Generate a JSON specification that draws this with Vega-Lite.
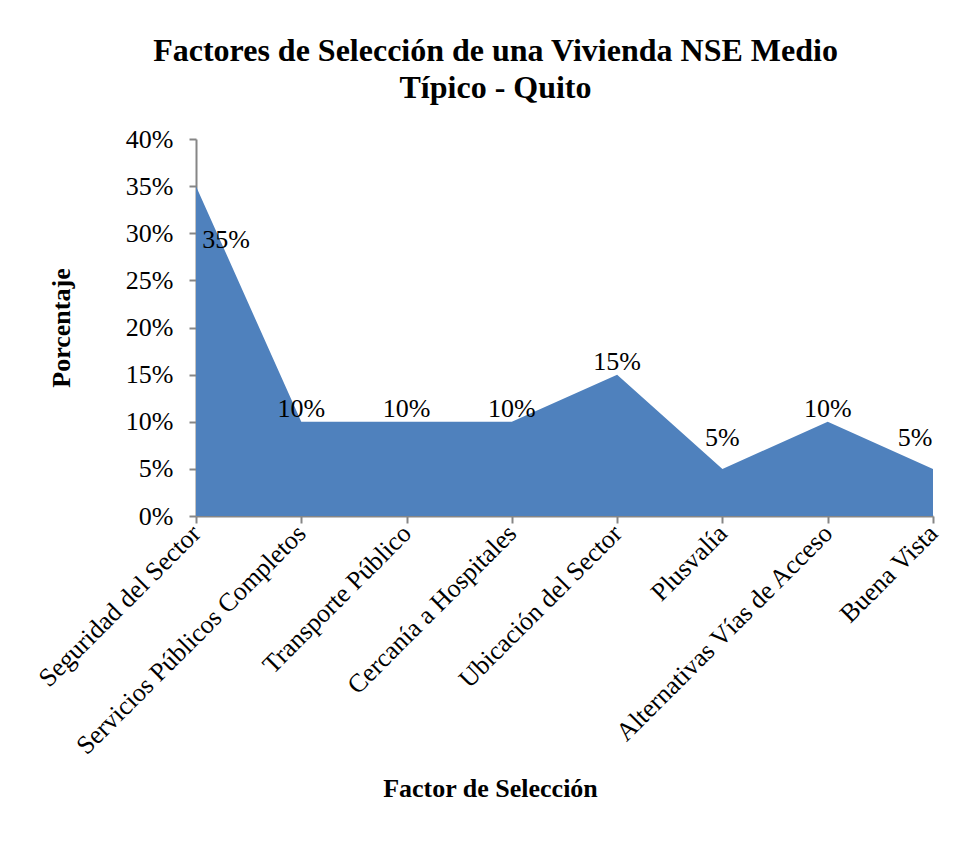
{
  "$schema": "https://vega.github.io/schema/vega-lite/v6.json",
  "width": 737,
  "height": 377,
  "autosize": {"type": "none"},
  "padding": {"left": 196, "top": 139, "right": 38, "bottom": 325},
  "background": "white",
  "config": {
    "view": {"stroke": null},
    "font": "Liberation Serif"
  },
  "title": {
    "text": ["Factores de Selección de una Vivienda NSE Medio", "Típico - Quito"],
    "font": "Liberation Serif",
    "fontSize": 32,
    "fontWeight": "bold",
    "color": "black",
    "anchor": "middle",
    "dx": -69,
    "offset": 21,
    "lineHeight": 37
  },
  "data": {
    "values": [
      {"factor": "Seguridad del Sector", "pct": 0.35},
      {"factor": "Servicios Públicos Completos", "pct": 0.10},
      {"factor": "Transporte Público", "pct": 0.10},
      {"factor": "Cercanía a Hospitales", "pct": 0.10},
      {"factor": "Ubicación del Sector", "pct": 0.15},
      {"factor": "Plusvalía", "pct": 0.05},
      {"factor": "Alternativas Vías de Acceso", "pct": 0.10},
      {"factor": "Buena Vista", "pct": 0.05}
    ]
  },
  "encoding": {
    "x": {
      "field": "factor",
      "type": "ordinal",
      "sort": null,
      "scale": {"type": "point", "padding": 0},
      "axis": {
        "title": "Factor de Selección",
        "titleFont": "Liberation Serif",
        "titleFontSize": 26,
        "titleFontWeight": "bold",
        "titleColor": "black",
        "titleX": 294,
        "titleY": 259,
        "labelAngle": -45,
        "labelAlign": "right",
        "labelBaseline": "middle",
        "labelFont": "Liberation Serif",
        "labelFontSize": 26,
        "labelColor": "black",
        "labelPadding": 6,
        "labelOverlap": false,
        "labelLimit": 400,
        "domainColor": "#868686",
        "domainWidth": 2,
        "tickColor": "#868686",
        "tickWidth": 2,
        "tickSize": 7,
        "grid": false
      }
    },
    "y": {
      "field": "pct",
      "type": "quantitative",
      "scale": {"domain": [0, 0.4], "nice": false},
      "axis": {
        "title": "Porcentaje",
        "titleFont": "Liberation Serif",
        "titleFontSize": 26,
        "titleFontWeight": "bold",
        "titleColor": "black",
        "titlePadding": 51,
        "values": [0, 0.05, 0.1, 0.15, 0.2, 0.25, 0.3, 0.35, 0.4],
        "format": ".0%",
        "labelFont": "Liberation Serif",
        "labelFontSize": 26,
        "labelColor": "black",
        "labelPadding": 16,
        "domainColor": "#868686",
        "domainWidth": 2,
        "tickColor": "#868686",
        "tickWidth": 2,
        "tickSize": 7,
        "grid": false
      }
    }
  },
  "layer": [
    {"mark": {"type": "area", "color": "#4F81BD", "opacity": 1}},
    {
      "transform": [{"filter": "datum.factor == 'Seguridad del Sector'"}],
      "mark": {"type": "text", "fontSize": 26, "color": "black", "dx": 30, "dy": 54, "baseline": "middle"},
      "encoding": {"text": {"field": "pct", "format": ".0%"}}
    },
    {
      "transform": [{"filter": "datum.factor != 'Seguridad del Sector' && datum.factor != 'Buena Vista' && datum.factor != 'Plusvalía'"}],
      "mark": {"type": "text", "fontSize": 26, "color": "black", "dy": -13, "baseline": "middle"},
      "encoding": {"text": {"field": "pct", "format": ".0%"}}
    },
    {
      "transform": [{"filter": "datum.factor == 'Plusvalía'"}],
      "mark": {"type": "text", "fontSize": 26, "color": "black", "dy": -31, "baseline": "middle"},
      "encoding": {"text": {"field": "pct", "format": ".0%"}}
    },
    {
      "transform": [{"filter": "datum.factor == 'Buena Vista'"}],
      "mark": {"type": "text", "fontSize": 26, "color": "black", "dx": -18, "dy": -31, "baseline": "middle"},
      "encoding": {"text": {"field": "pct", "format": ".0%"}}
    }
  ]
}
